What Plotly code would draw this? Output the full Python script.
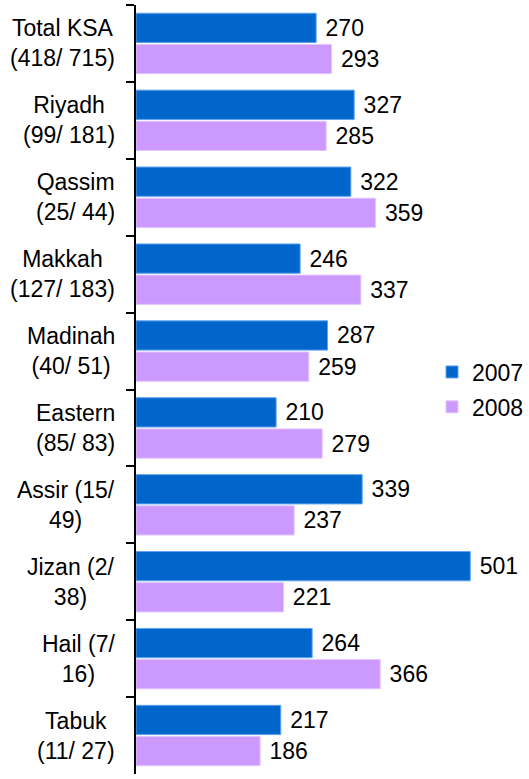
import plotly.graph_objects as go

# Regions with (sample sizes 2007/ 2008) shown under each name
regions = ["Total KSA", "Riyadh", "Qassim", "Makkah", "Madinah",
           "Eastern", "Assir", "Jizan", "Hail", "Tabuk"]
region_labels = ["Total KSA<br>(418/ 715)", "Riyadh<br>(99/ 181)", "Qassim<br>(25/ 44)",
                 "Makkah<br>(127/ 183)", "Madinah<br>(40/ 51)", "Eastern<br>(85/ 83)",
                 "Assir (15/<br>49)", "Jizan (2/<br>38)", "Hail (7/<br>16)", "Tabuk<br>(11/ 27)"]
values_2007 = [270, 327, 322, 246, 287, 210, 339, 501, 264, 217]
values_2008 = [293, 285, 359, 337, 259, 279, 237, 221, 366, 186]

FONT = "Liberation Sans, Arial, Helvetica, sans-serif"
BLUE = "#0066CC"
LILAC = "#CC99FF"

fig = go.Figure()
for name, vals, color, edge in [("2007", values_2007, BLUE, "#5FA3EE"),
                                ("2008", values_2008, LILAC, "#E2C6FF")]:
    fig.add_trace(go.Bar(
        name=name, legendgroup=name, y=regions, x=vals, orientation="h",
        marker=dict(color=color, line=dict(color=edge, width=1)),
        text=vals, texttemplate=" %{x}", textposition="outside",
        textfont=dict(family=FONT, size=23, color="black"),
        constraintext="none", cliponaxis=False,
    ))

# Two-line region labels, centred line by line, left of the axis
for reg, lab in zip(regions, region_labels):
    fig.add_annotation(
        x=0, xref="paper", y=reg, yref="y", text=lab, showarrow=False,
        xanchor="right", yanchor="middle", align="center", xshift=-19,
        font=dict(family=FONT, size=23, color="black"),
    )

fig.update_layout(
    width=529, height=779,
    margin=dict(l=136, r=0, t=5, b=5),
    paper_bgcolor="white", plot_bgcolor="white",
    barmode="group", bargap=0.19, bargroupgap=0.06,
    font=dict(family=FONT, size=23, color="black"),
    legend=dict(x=1, y=0.50, xanchor="right", yanchor="middle",
                font=dict(family=FONT, size=23, color="black"),
                bgcolor="rgba(0,0,0,0)", traceorder="grouped",
                tracegroupgap=2, itemwidth=30),
    showlegend=True,
)
fig.update_xaxes(range=[0, 589], visible=False)
fig.update_yaxes(
    type="category", categoryorder="array", categoryarray=regions,
    autorange="reversed", showticklabels=False,
    showline=True, linecolor="black", linewidth=2,
    ticks="outside", tickson="boundaries", ticklen=8, tickwidth=2, tickcolor="black",
    showgrid=False, zeroline=False,
)

fig.write_html("out.html")
